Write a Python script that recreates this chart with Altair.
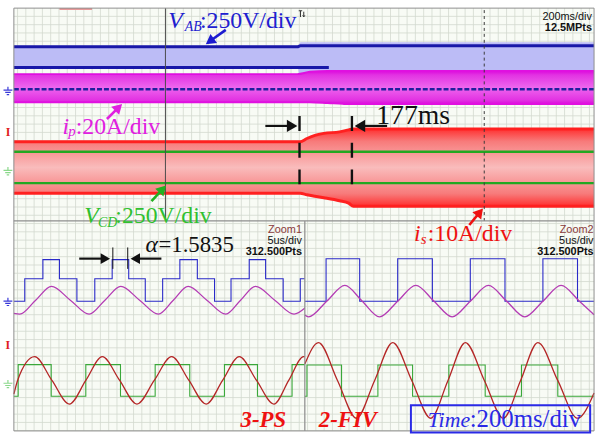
import altair as alt
import pandas as pd

# ---------------- long record, 200 ms/div (time in ms) ----------------
rec_t_vab = [0, 960, 968, 1960]
rec_vab_hi = [262, 262, 283, 283]          # V, envelope of V_AB
rec_vab_lo = [131, 131, 0, 0]
rec_vab_top = [256, 256, 262, 262]         # V, upper level trace
rec_t_vab_mid = [0, 1064]
rec_vab_mid = [131, 131]                   # V, middle level (3-PS only)

rec_t_ip = [0, 957, 1000, 1060, 1110, 1130, 1960]
rec_ip_hi = [7.3, 7.3, 8.4, 8.8, 8.8, 8.8, 8.8]      # A
rec_ip_lo = [-6.2, -6.2, -6.2, -6.6, -7.0, -7.1, -7.1]

rec_t_is = [0, 967, 990, 1017, 1047, 1100, 1131, 1147, 1960]
rec_is_hi = [6.19, 6.19, 6.98, 7.74, 8.21, 8.57, 9.05, 9.29, 9.29]   # A
rec_is_lo = [-6.19, -6.19, -6.55, -6.90, -7.26, -7.98, -8.57, -9.29, -9.29]

rec_vcd_levels = [95, -94]                 # V

mode_change_ms = 965
settle_ms = 177
cursor_ms = 512
cursor2_ms = 1589
trigger_ms = 973

# ---------------- Zoom1: 3-PS, 5 us/div (time in us) ----------------
z1_t_vab = [0, 1.31, 3.49, 5.48, 7.58, 9.73, 11.82, 13.81, 15.80, 17.89, 19.96,
            22.06, 24.13, 26.11, 28.30, 30.27, 32.38, 34.44, 35.0]
z1_vab = [0, 135, 250, 135, 0, 135, 250, 135, 0, 135, 250, 135, 0, 135, 250,
          135, 0, 135, 135]
z1_t_ip = [0, 0.71, 2.62, 4.52, 6.79, 9.05, 10.95, 12.86, 15.12, 17.38, 19.17,
           20.95, 23.21, 25.48, 27.26, 29.05, 31.37, 33.69, 35.0]
z1_ip = [-5.9, -6.2, 0.5, 7.1, 0.5, -6.2, 0.5, 7.1, 0.5, -6.2, 0.5, 7.1, 0.5,
         -6.2, 0.5, 7.1, 0.5, -6.2, -3.3]
z1_t_is = [0, 0.45, 2.5, 4.58, 6.67, 8.65, 10.63, 12.72, 14.80, 16.88, 18.97,
           21.05, 23.13, 25.1, 27.1, 29.18, 31.27, 33.05, 34.84, 35.0]
z1_is = [-3.3, 0, 5.7, 0, -5.7, 0, 5.7, 0, -5.7, 0, 5.7, 0, -5.7, 0, 5.7, 0,
         -5.7, 0, 5.7, 5.7]
z1_t_vcd = [0, 0.52, 4.49, 8.65, 12.82, 16.99, 21.15, 25.32, 29.29, 33.45, 35.0]
z1_vcd = [-95, 95, -95, 95, -95, 95, -95, 95, -95, 95, 95]
alpha_text = "=1.5835"

# ---------------- Zoom2: 2-FIV, 5 us/div ----------------
z2_t_vab = [0, 2.54, 6.58, 11.15, 15.32, 19.88, 24.05, 28.61, 32.77, 34.76]
z2_vab = [0, 255, 0, 255, 0, 255, 0, 255, 0, 0]
z2_t_ip = [0, 0.43, 2.62, 4.80, 6.89, 8.97, 11.15, 13.33, 15.52, 17.70, 19.88,
           22.06, 24.25, 26.43, 28.61, 30.79, 33.0, 34.76]
z2_ip = [-6.7, -7.5, 0, 7.6, 0, -7.5, 0, 7.6, 0, -7.5, 0, 7.6, 0, -7.5, 0, 7.6,
         0, -6.5]
z2_t_is = [0, 1.63, 3.91, 6.19, 8.38, 10.56, 12.84, 15.12, 17.2, 19.29, 21.57,
           23.85, 25.93, 28.01, 30.39, 32.77, 34.76]
z2_is = [4.0, 9.1, 0, -9.1, 0, 9.1, 0, -9.1, 0, 9.1, 0, -9.1, 0, 9.1, 0, -9.1, -3.0]
z2_t_vcd = [0, 0.24, 4.40, 8.77, 12.94, 17.30, 21.67, 26.03, 30.40, 34.76]
z2_vcd = [-95, 93, -95, 93, -95, 93, -95, 93, -95, -95]

# ---------------- channel settings ----------------
VAB_DIV, IP_DIV, VCD_DIV, IS_DIV = 250, 20, 250, 10
TOP_G1, TOP_G2 = 3.167, 1.286     # ground positions in divisions
BOT_G1, BOT_G2 = 3.119, 1.214

SCREEN_BG = "#f8fbf5"
GRID = "#d3d9cf"
FRAME = "#8e8e8e"
SERIF = "Liberation Serif"
SMALL = "Liberation Sans Narrow, Liberation Sans"

BLUE, BLUE_FILL = "#1818a8", "#bcbcf6"
RED = "#ff2020"
GREEN = "#22a822"


def scr(vals, gnd, per_div):
    return [gnd + v / per_div for v in vals]


class Panel:
    def __init__(self, xdom, ydom, w, h):
        self.xs = alt.Scale(domain=xdom, nice=False, zero=False)
        self.ys = alt.Scale(domain=ydom, nice=False, zero=False)
        self.w, self.h = w, h
        self.layers = []

    def X(self, f="x"):
        return alt.X(f"{f}:Q", scale=self.xs, axis=None)

    def Y(self, f="y"):
        return alt.Y(f"{f}:Q", scale=self.ys, axis=None)

    def rect(self, x, x2, y, y2, **mk):
        df = pd.DataFrame({"x": [x], "x2": [x2], "y": [y], "y2": [y2]})
        self.layers.append(alt.Chart(df).mark_rect(**mk).encode(
            x=self.X(), x2="x2", y=self.Y(), y2="y2"))

    def segs(self, xs, x2s, ys, y2s, **mk):
        df = pd.DataFrame({"x": xs, "x2": x2s, "y": ys, "y2": y2s})
        self.layers.append(alt.Chart(df).mark_rule(**mk).encode(
            x=self.X(), x2="x2", y=self.Y(), y2="y2"))

    def line(self, t, y, **mk):
        df = pd.DataFrame({"t": t, "y": y})
        self.layers.append(alt.Chart(df).mark_line(**mk).encode(
            x=self.X("t"), y=self.Y("y"), order="t:Q"))

    def area(self, t, hi, lo, **mk):
        df = pd.DataFrame({"t": t, "hi": hi, "lo": lo})
        self.layers.append(alt.Chart(df).mark_area(**mk).encode(
            x=self.X("t"), y=self.Y("hi"), y2="lo"))

    def text(self, s, x, y, **mk):
        df = pd.DataFrame({"x": [x], "y": [y]})
        style = dict(align="left", baseline="alphabetic")
        style.update(mk)
        self.layers.append(alt.Chart(df).mark_text(text=s, **style).encode(
            x=self.X(), y=self.Y()))

    def symbol(self, x, y, **mk):
        df = pd.DataFrame({"x": [x], "y": [y]})
        self.layers.append(alt.Chart(df).mark_point(**mk).encode(
            x=self.X(), y=self.Y()))

    def arrow(self, x0, y0, x1, y1, color, angle, width=2.6, size=130):
        self.segs([x0], [x1], [y0], [y1], color=color, strokeWidth=width)
        self.symbol(x1, y1, shape="triangle-right", angle=angle, filled=True,
                    size=size, color=color, opacity=1, strokeWidth=0)

    def chart(self):
        return alt.layer(*self.layers).properties(width=self.w, height=self.h)


def band_gradient(edge, mid, inner, edge_w=0.12):
    return alt.Gradient(
        gradient="linear", x1=0, x2=0, y1=0, y2=1,
        stops=[alt.GradientStop(color=edge, offset=0),
               alt.GradientStop(color=mid, offset=edge_w),
               alt.GradientStop(color=inner, offset=0.5),
               alt.GradientStop(color=mid, offset=1 - edge_w),
               alt.GradientStop(color=edge, offset=1)])


GROUND = "M0,-1L0,-0.25M-1,-0.25L1,-0.25M-0.62,0.25L0.62,0.25M-0.28,0.75L0.28,0.75"
TRIGGER = "M-1,-1L0.1,-1M-0.45,-1L-0.45,1M0.6,-0.7L0.6,0.9M0.25,0.45L0.6,0.95L0.95,0.45"


def screen(p, xmax, ymax, gx0, gdx, gy0, gdy):
    p.rect(0, xmax, 0, ymax, fill=SCREEN_BG, strokeWidth=0)
    vx = []
    v = gx0
    while v < xmax:
        vx.append(v)
        v += gdx
    hy = []
    v = gy0
    while v > 0:
        hy.append(v)
        v -= gdy
    p.segs(vx, vx, [0] * len(vx), [ymax] * len(vx), color=GRID, strokeWidth=0.8)
    p.segs([0] * len(hy), [xmax] * len(hy), hy, hy, color=GRID, strokeWidth=0.8)


def markers(p, x, g1, g2, ymark):
    p.symbol(x, g1, shape=GROUND, filled=False, size=80, color="#3a3ad8",
             strokeWidth=1.2, opacity=1)
    p.symbol(x, g2, shape=GROUND, filled=False, size=80, color="#8ad88a",
             strokeWidth=1.2, opacity=1)
    p.text("I", x, ymark, align="center", baseline="middle", font=SERIF,
           fontSize=12, fontWeight="bold", color="#e02020")


# ======================= top panel =======================
TOP_XMAX, TOP_YMAX = 1960, 5.119
top = Panel([-46.83, TOP_XMAX], [0, TOP_YMAX], 600, 215)
screen(top, TOP_XMAX, TOP_YMAX, 12.4, 28.0, 4.921, 0.1993)

top.area(rec_t_vab, scr(rec_vab_hi, TOP_G1, VAB_DIV), scr(rec_vab_lo, TOP_G1, VAB_DIV),
         color=BLUE_FILL, interpolate="linear")
top.line(rec_t_vab, scr(rec_vab_top, TOP_G1, VAB_DIV), color=BLUE, strokeWidth=3)
top.line(rec_t_vab_mid, scr(rec_vab_mid, TOP_G1, VAB_DIV), color=BLUE, strokeWidth=3)
top.area(rec_t_ip, scr(rec_ip_hi, TOP_G1, IP_DIV), scr(rec_ip_lo, TOP_G1, IP_DIV),
         color=band_gradient("#dc0adc", "#e232e2", "#ee66ee"), interpolate="monotone")
top.line(rec_t_ip, scr(rec_ip_hi, TOP_G1, IP_DIV), color="#e010e0", strokeWidth=2,
         interpolate="monotone")
top.line(rec_t_ip, scr(rec_ip_lo, TOP_G1, IP_DIV), color="#e010e0", strokeWidth=2,
         interpolate="monotone")
top.line([0, TOP_XMAX], scr([0, 0], TOP_G1, VAB_DIV), color="#20209c",
         strokeWidth=2.4, strokeDash=[5, 2])
top.area(rec_t_is, scr(rec_is_hi, TOP_G2, IS_DIV), scr(rec_is_lo, TOP_G2, IS_DIV),
         color=band_gradient("#ff3030", "#f77a7a", "#f9bcbc", 0.16),
         interpolate="monotone")
top.line(rec_t_is, scr(rec_is_hi, TOP_G2, IS_DIV), color=RED, strokeWidth=3,
         interpolate="monotone")
top.line(rec_t_is, scr(rec_is_lo, TOP_G2, IS_DIV), color=RED, strokeWidth=3,
         interpolate="monotone")
for lvl in rec_vcd_levels:
    top.line([0, TOP_XMAX], scr([lvl, lvl], TOP_G2, VCD_DIV), color=GREEN, strokeWidth=2.4)

# cursors and frame details
top.segs([cursor_ms], [cursor_ms], [0], [TOP_YMAX], color="#4a4a4a", strokeWidth=1)
top.segs([cursor2_ms], [cursor2_ms], [0], [TOP_YMAX], color="#3a3a3a",
         strokeWidth=1, strokeDash=[3, 3])
top.segs([154], [264], [TOP_YMAX - 0.02], [TOP_YMAX - 0.02], color="#e89a9a", strokeWidth=2)
top.rect(0, TOP_XMAX, 0, TOP_YMAX, fill="transparent", stroke=FRAME, strokeWidth=1)
top.symbol(trigger_ms, 4.98, shape=TRIGGER, filled=False, size=40, color="#333333",
           strokeWidth=1, opacity=1)

# settling-time markers
m1, m2 = mode_change_ms, mode_change_ms + settle_ms
top.segs([m1, m2], [m1, m2], [0.881, 0.881], [2.667, 2.667], color="#111111",
         strokeWidth=2.4, strokeDash=[15, 12])
top.arrow(849.6, 2.286, 940.0, 2.286, "#111111", 0, width=2.2, size=150)
top.arrow(1260.9, 2.286, 1169.0, 2.286, "#111111", 180, width=2.2, size=150)
top.text(f"{settle_ms}ms", 1224, 2.333, font=SERIF, fontSize=28, color="#111111")

# channel labels
top.text("V", 521.8, 4.643, font=SERIF, fontSize=24, fontStyle="italic", color="#2020d0")
top.text("AB", 577, 4.571, font=SERIF, fontSize=14, fontStyle="italic", color="#2020d0")
top.text(":250V/div", 628.8, 4.643, font=SERIF, fontSize=24, color="#2020d0")
top.arrow(715.8, 4.595, 661.9, 4.321, "#1c1cd0", 144.4)

top.text("i", 163.9, 2.095, font=SERIF, fontSize=24, fontStyle="italic", color="#e020e0")
top.text("p", 184.0, 2.048, font=SERIF, fontSize=15, fontStyle="italic", color="#e020e0")
top.text(":20A/div", 209.0, 2.095, font=SERIF, fontSize=24, color="#e020e0")
top.arrow(314.4, 2.452, 353.9, 2.733, "#e020e0", 315)

top.arrow(464.9, 0.476, 502.7, 0.769, "#22b022", 313.1)

top.text("200ms/div", 1953, 4.833, align="right", font=SMALL, fontSize=11, color="#111111")
top.text("12.5MPts", 1953, 4.571, align="right", font=SMALL, fontSize=11,
         fontWeight="bold", color="#111111")
markers(top, -20.0, 3.119, 1.19, 2.143)

# ======================= Zoom1 (3-PS) =======================
Z1_XMAX, BOT_YMAX = 35.0, 5.048
z1 = Panel([-1.667, Z1_XMAX], [0, BOT_YMAX], 308, 212)
screen(z1, Z1_XMAX, BOT_YMAX, 0.44, 0.9964, 4.987, 0.1993)
z1.line(z1_t_vab, scr(z1_vab, BOT_G1, VAB_DIV), color="#2a2ac8", strokeWidth=1.1,
        interpolate="step-after")
z1.line(z1_t_ip, scr(z1_ip, BOT_G1, IP_DIV), color="#b43cb4", strokeWidth=1.3,
        interpolate="monotone")
z1.line(z1_t_vcd, scr(z1_vcd, BOT_G2, VCD_DIV), color="#3aa83a", strokeWidth=1.1,
        interpolate="step-after")
z1.line(z1_t_is, scr(z1_is, BOT_G2, IS_DIV), color="#b42626", strokeWidth=1.3,
        interpolate="monotone")
z1.rect(0, Z1_XMAX, 0, BOT_YMAX, fill="transparent", stroke=FRAME, strokeWidth=1)

z1.segs([11.9, 13.69], [11.9, 13.69], [3.897, 3.897], [4.412, 4.412],
        color="#111111", strokeWidth=1)
z1.arrow(7.857, 4.143, 11.0, 4.143, "#111111", 0, width=2.2, size=120)
z1.arrow(17.74, 4.143, 14.6, 4.143, "#111111", 180, width=2.2, size=120)
z1.text("α", 15.83, 4.31, font=SERIF, fontSize=24, fontStyle="italic", color="#111111")
z1.text(alpha_text, 17.38, 4.31, font=SERIF, fontSize=23, color="#111111")
z1.text("3-PS", 27.26, 0.095, font=SERIF, fontSize=23, fontStyle="italic",
        fontWeight="bold", color="#ee1111")
z1.text("Zoom1", 34.64, 4.762, align="right", font=SMALL, fontSize=11, color="#8a3a3a")
z1.text("5us/div", 34.64, 4.5, align="right", font=SMALL, fontSize=11, color="#111111")
z1.text("312.500Pts", 34.64, 4.238, align="right", font=SMALL, fontSize=11,
        fontWeight="bold", color="#111111")
z1.text("V", 8.45, 4.988, font=SERIF, fontSize=24, fontStyle="italic", color="#30c030")
z1.text("CD", 10.12, 4.905, font=SERIF, fontSize=14, fontStyle="italic", color="#30c030")
z1.text(":250V/div", 12.2, 4.988, font=SERIF, fontSize=24, color="#30c030")
markers(z1, -0.714, 3.095, 1.119, 2.071)

# ======================= Zoom2 (2-FIV) =======================
Z2_XMAX = 34.76
z2 = Panel([0, Z2_XMAX], [0, BOT_YMAX], 292, 212)
screen(z2, Z2_XMAX, BOT_YMAX, 0.315, 0.9964, 4.987, 0.1993)
z2.line(z2_t_vab, scr(z2_vab, BOT_G1, VAB_DIV), color="#2a2ac8", strokeWidth=1.1,
        interpolate="step-after")
z2.line(z2_t_ip, scr(z2_ip, BOT_G1, IP_DIV), color="#b43cb4", strokeWidth=1.3,
        interpolate="monotone")
z2.line(z2_t_vcd, scr(z2_vcd, BOT_G2, VCD_DIV), color="#3aa83a", strokeWidth=1.1,
        interpolate="step-after")
z2.line(z2_t_is, scr(z2_is, BOT_G2, IS_DIV), color="#b42626", strokeWidth=1.3,
        interpolate="monotone")
z2.rect(0, Z2_XMAX, 0, BOT_YMAX, fill="transparent", stroke=FRAME, strokeWidth=1)

z2.text("i", 13.1, 4.571, font=SERIF, fontSize=24, fontStyle="italic", color="#ee1111")
z2.text("s", 13.93, 4.5, font=SERIF, fontSize=15, fontStyle="italic", color="#ee1111")
z2.text(":10A/div", 14.76, 4.571, font=SERIF, fontSize=24, color="#ee1111")
z2.arrow(19.76, 4.952, 21.03, 5.26, "#ee1111", 309.6)
z2.text("2-FIV", 1.667, 0.095, font=SERIF, fontSize=23, fontStyle="italic",
        fontWeight="bold", color="#ee1111")
z2.rect(12.74, 34.29, -0.036, 0.619, fill="transparent", stroke="#2a2ae6", strokeWidth=2)
z2.text("Time", 14.76, 0.095, font=SERIF, fontSize=22, fontStyle="italic", color="#2a2ae6")
z2.text(":200ms/div", 19.8, 0.095, font=SERIF, fontSize=25, color="#2a2ae6")
z2.text("Zoom2", 34.7, 4.762, align="right", font=SMALL, fontSize=11, color="#8a3a3a")
z2.text("5us/div", 34.7, 4.5, align="right", font=SMALL, fontSize=11, color="#111111")
z2.text("312.500Pts", 34.7, 4.238, align="right", font=SMALL, fontSize=11,
        fontWeight="bold", color="#111111")

bottom = alt.hconcat(z1.chart(), z2.chart(), spacing=0, bounds="flush")
chart = (
    alt.vconcat(top.chart(), bottom, spacing=0, bounds="flush")
    .properties(padding={"left": 0, "top": 5, "right": 0, "bottom": 6},
                background="white")
    .configure_view(stroke="transparent", strokeWidth=0)
)

chart.save("out.html", embed_options={"renderer": "svg", "actions": False})
